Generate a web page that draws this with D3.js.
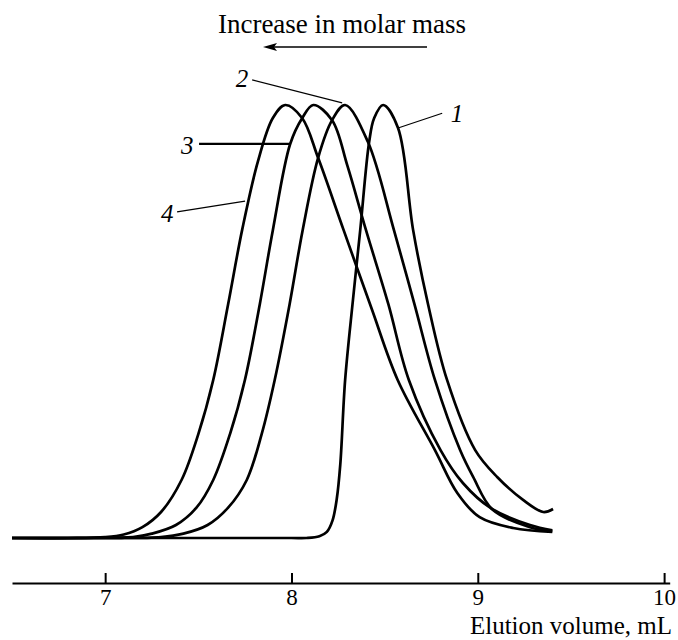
<!DOCTYPE html>
<html>
<head>
<meta charset="utf-8">
<script src="https://cdn.jsdelivr.net/npm/d3@7"></script>
<style>
  body { margin: 0; background: #fff; }
  svg text { font-family: "Liberation Serif", "DejaVu Serif", serif; fill: #000; }
</style>
</head>
<body>
<svg id="chart" width="678" height="640"></svg>
<script>
// elution curves, [volume mL, relative intensity]
const curve1 = [[6.5,0],[7.5,0],[8.0,0],[8.08,0],[8.15,0.004],[8.19,0.014],[8.22,0.04],[8.243,0.09],[8.262,0.17],[8.288,0.365],[8.33,0.55],[8.369,0.711],[8.417,0.915],[8.444,0.97],[8.492,1],[8.572,0.947],[8.653,0.711],[8.733,0.54],[8.835,0.365],[8.986,0.203],[9.104,0.141],[9.243,0.088],[9.351,0.06],[9.404,0.067]];
const curve2 = [[6.5,0],[7.0,0],[7.3,0.002],[7.42,0.01],[7.55,0.03],[7.66,0.07],[7.76,0.134],[7.84,0.24],[7.91,0.365],[7.99,0.54],[8.06,0.711],[8.143,0.878],[8.218,0.965],[8.288,1],[8.41,0.915],[8.55,0.711],[8.66,0.54],[8.77,0.365],[8.905,0.203],[8.975,0.141],[9.08,0.065],[9.28,0.025],[9.40,0.016]];
const curve3 = [[6.5,0],[6.9,0],[7.15,0.002],[7.25,0.01],[7.38,0.03],[7.49,0.07],[7.58,0.134],[7.67,0.24],[7.75,0.365],[7.83,0.54],[7.90,0.711],[7.993,0.91],[8.058,0.97],[8.117,1],[8.218,0.965],[8.30,0.86],[8.40,0.711],[8.52,0.54],[8.63,0.365],[8.80,0.203],[8.92,0.127],[9.07,0.069],[9.28,0.03],[9.40,0.018]];
const curve4 = [[6.5,0],[6.8,0],[7.0,0.002],[7.1,0.008],[7.2,0.025],[7.3,0.06],[7.41,0.134],[7.5,0.24],[7.58,0.365],[7.66,0.54],[7.735,0.711],[7.82,0.87],[7.90,0.97],[7.966,1],[8.057,0.97],[8.143,0.878],[8.28,0.711],[8.43,0.53],[8.57,0.365],[8.77,0.203],[8.89,0.104],[9.01,0.048],[9.19,0.023],[9.40,0.014]];

const xTicks = [7, 8, 9, 10];

// curve labels: text position, leader start, leader end (data units)
const curveLabels = [
  { name: '1', at: [8.889, 0.981], from: [8.809, 0.981], to: [8.572, 0.947], w: 1.2 },
  { name: '2', at: [7.735, 1.062], from: [7.789, 1.058], to: [8.272, 1.005], w: 1.2 },
  { name: '3', at: [7.44, 0.908], from: [7.504, 0.91], to: [7.993, 0.91], w: 2.2 },
  { name: '4', at: [7.333, 0.751], from: [7.386, 0.753], to: [7.751, 0.778], w: 1.2 }
];

const svg = d3.select('#chart');

const xScale = d3.scaleLinear().domain([6.5, 10.03]).range([12, 669.7]);
const yScale = d3.scaleLinear().domain([0, 1]).range([538, 105]);

// title + arrow pointing left
svg.append('text')
  .attr('x', 342)
  .attr('y', 33)
  .attr('text-anchor', 'middle')
  .style('font-size', '27px')
  .text('Increase in molar mass');

svg.append('line')
  .attr('x1', 427).attr('y1', 47)
  .attr('x2', 272).attr('y2', 47)
  .attr('stroke', '#000')
  .attr('stroke-width', 1.5);

svg.append('path')
  .attr('d', 'M263,47 L277,43 L274,47 L277,51 Z')
  .attr('fill', '#000');

// x axis
const xAxis = svg.append('g')
  .attr('transform', 'translate(0,583)')
  .call(d3.axisBottom(xScale)
    .tickValues(xTicks)
    .tickFormat(d3.format('d'))
    .tickSizeInner(-10)
    .tickSizeOuter(0)
    .tickPadding(6));

xAxis.select('.domain').attr('stroke-width', 2.2);
xAxis.selectAll('.tick line').attr('stroke-width', 2);
xAxis.selectAll('.tick text')
  .style('font-family', '"Liberation Serif", serif')
  .style('font-size', '23px');

svg.append('text')
  .attr('x', 672)
  .attr('y', 634)
  .attr('text-anchor', 'end')
  .style('font-size', '25px')
  .text('Elution volume, mL');

// curves
const line = d3.line()
  .x(d => xScale(d[0]))
  .y(d => yScale(d[1]))
  .curve(d3.curveCatmullRom.alpha(0.5));

svg.append('g')
  .selectAll('path')
  .data([curve4, curve3, curve2, curve1])
  .join('path')
  .attr('d', line)
  .attr('fill', 'none')
  .attr('stroke', '#000')
  .attr('stroke-width', 2.7)
  .attr('stroke-linejoin', 'round');

// labels and leaders
const labels = svg.append('g');
labels.selectAll('line')
  .data(curveLabels)
  .join('line')
  .attr('x1', d => xScale(d.from[0]))
  .attr('y1', d => yScale(d.from[1]))
  .attr('x2', d => xScale(d.to[0]))
  .attr('y2', d => yScale(d.to[1]))
  .attr('stroke', '#000')
  .attr('stroke-width', d => d.w);

labels.selectAll('text')
  .data(curveLabels)
  .join('text')
  .attr('x', d => xScale(d.at[0]))
  .attr('y', d => yScale(d.at[1]))
  .attr('dy', '0.35em')
  .attr('text-anchor', 'middle')
  .style('font-size', '25px')
  .style('font-style', 'italic')
  .text(d => d.name);
</script>
</body>
</html>
